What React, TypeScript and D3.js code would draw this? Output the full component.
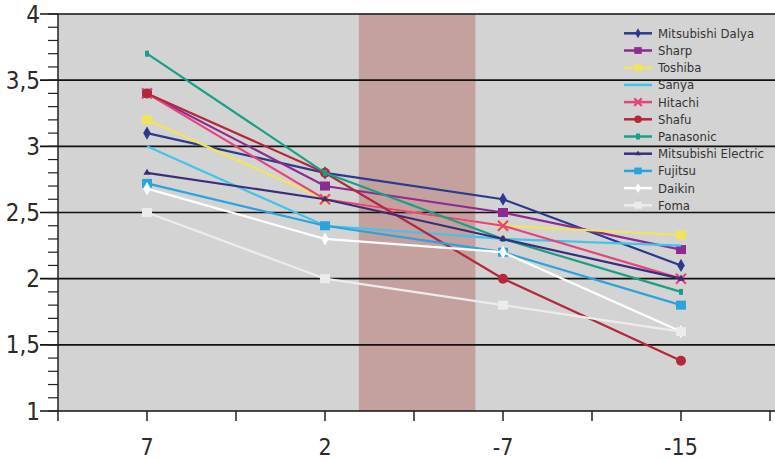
import React from "react";
import * as d3 from "d3";

const categories = ["7", "2", "-7", "-15"];
const categoryIndex = [1, 3, 5, 7];
const yTickValues = [1, 1.5, 2, 2.5, 3, 3.5, 4];
const yTickLabels = ["1", "1,5", "2", "2,5", "3", "3,5", "4"];
const xTickValues = [0, 1, 2, 3, 4, 5, 6, 7, 8];
const band = [3.38, 4.69];

const seriesNames = [
  "Mitsubishi Dalya",
  "Sharp",
  "Toshiba",
  "Sanya",
  "Hitachi",
  "Shafu",
  "Panasonic",
  "Mitsubishi Electric",
  "Fujitsu",
  "Daikin",
  "Foma",
];
const mitsubishiDalya = [3.1, 2.8, 2.6, 2.1];
const sharp = [3.4, 2.7, 2.5, 2.22];
const toshiba = [3.2, 2.6, 2.4, 2.33];
const sanya = [3.0, 2.4, 2.3, 2.25];
const hitachi = [3.4, 2.6, 2.4, 2.0];
const shafu = [3.4, 2.8, 2.0, 1.38];
const panasonic = [3.7, 2.8, 2.3, 1.9];
const mitsubishiElectric = [2.8, 2.6, 2.3, 2.0];
const fujitsu = [2.72, 2.4, 2.2, 1.8];
const daikin = [2.68, 2.3, 2.2, 1.6];
const foma = [2.5, 2.0, 1.8, 1.6];

const seriesValues = [
  mitsubishiDalya, sharp, toshiba, sanya, hitachi, shafu,
  panasonic, mitsubishiElectric, fujitsu, daikin, foma,
];
const seriesColors = [
  "#2b3a8e", "#8e2a92", "#f2e45a", "#45c3ea", "#e4457e", "#b3283a",
  "#1a9f87", "#3b2c7c", "#2ba3dc", "#ffffff", "#ececec",
];
const seriesMarkers = [
  "diamond", "square", "square", "none", "cross", "circle",
  "small", "triangle", "square", "diamond", "square",
];

const W = 775;
const H = 461;

function Marker({ kind, x, y, color, s = 1 }: { kind: string; x: number; y: number; color: string; s?: number }) {
  if (kind === "diamond")
    return <path d={d3.symbol(d3.symbolDiamond, 50 * s * s)()!} transform={`translate(${x},${y})`} fill={color} />;
  if (kind === "square")
    return <rect x={x - 5 * s} y={y - 4.5 * s} width={10 * s} height={9 * s} fill={color} />;
  if (kind === "circle") return <circle cx={x} cy={y} r={5 * s} fill={color} />;
  if (kind === "cross")
    return (
      <path
        d={`M${x - 5 * s},${y - 5 * s}L${x + 5 * s},${y + 5 * s}M${x - 5 * s},${y + 5 * s}L${x + 5 * s},${y - 5 * s}`}
        stroke={color}
        strokeWidth={2.2}
      />
    );
  if (kind === "small") return <rect x={x - 2} y={y - 3} width={4} height={6} fill={color} />;
  if (kind === "triangle")
    return <path d={d3.symbol(d3.symbolTriangle, 22 * s * s)()!} transform={`translate(${x},${y})`} fill={color} />;
  return null;
}

export default function App() {
  const x = d3.scaleLinear().domain([0, 8]).range([58, 770]);
  const y = d3.scaleLinear().domain([1, 4]).range([411, 14]);
  const minor = d3.range(10, 41).map((d) => d / 10);
  const line = d3
    .line<number>()
    .x((_, i) => x(categoryIndex[i]))
    .y((d) => y(d));
  const axisFont = "'Liberation Sans Narrow', 'DejaVu Sans Condensed', 'Arial Narrow', sans-serif";

  return (
    <svg
      width={W}
      height={H}
      style={{ position: "absolute", left: 0, top: 0, display: "block", background: "#fff" }}
    >
      <rect x={x(0)} y={y(4)} width={W - x(0)} height={y(1) - y(4)} fill="#d3d3d3" />
      <rect x={x(band[0])} y={y(4)} width={x(band[1]) - x(band[0])} height={y(1) - y(4)} fill="#c4a09f" />
      {yTickValues.map((v) => (
        <line key={"g" + v} x1={40} x2={W} y1={y(v)} y2={y(v)} stroke="#111" strokeWidth={1.6} />
      ))}
      {minor.map((v) => (
        <line key={"m" + v} x1={48} x2={58} y1={y(v)} y2={y(v)} stroke="#222" strokeWidth={1.2} />
      ))}
      <line x1={x(0)} x2={x(0)} y1={y(4)} y2={y(1)} stroke="#222" strokeWidth={1.5} />
      {xTickValues.map((v) => (
        <line key={"x" + v} x1={x(v)} x2={x(v)} y1={y(1)} y2={y(1) + 10} stroke="#222" strokeWidth={1.5} />
      ))}
      {yTickValues.map((v, i) => (
        <text
          key={"yl" + v}
          x={40}
          y={y(v)}
          dy="0.36em"
          textAnchor="end"
          fontFamily={axisFont}
          fontSize={24}
          fill="#2a2a2a"
        >
          {yTickLabels[i]}
        </text>
      ))}
      {categories.map((c, i) => (
        <text
          key={"xl" + c}
          x={x(categoryIndex[i])}
          y={455}
          textAnchor="middle"
          fontFamily={axisFont}
          fontSize={23}
          fill="#2a2a2a"
        >
          {c}
        </text>
      ))}
      {seriesValues.map((vals, s) => (
        <g key={"s" + s}>
          <path d={line(vals)!} fill="none" stroke={seriesColors[s]} strokeWidth={2.2} />
          {vals.map((v, i) => (
            <Marker key={i} kind={seriesMarkers[s]} x={x(categoryIndex[i])} y={y(v)} color={seriesColors[s]} />
          ))}
        </g>
      ))}
      {seriesNames.map((n, i) => {
        const ly = 33.3 + i * 17.2;
        return (
          <g key={"lg" + n}>
            <line x1={624} x2={652} y1={ly} y2={ly} stroke={seriesColors[i]} strokeWidth={2.5} />
            <Marker kind={seriesMarkers[i]} x={638} y={ly} color={seriesColors[i]} s={0.75} />
            <text x={658} y={ly} dy="0.35em" fontFamily={axisFont} fontSize={13} fill="#333">
              {n}
            </text>
          </g>
        );
      })}
    </svg>
  );
}
